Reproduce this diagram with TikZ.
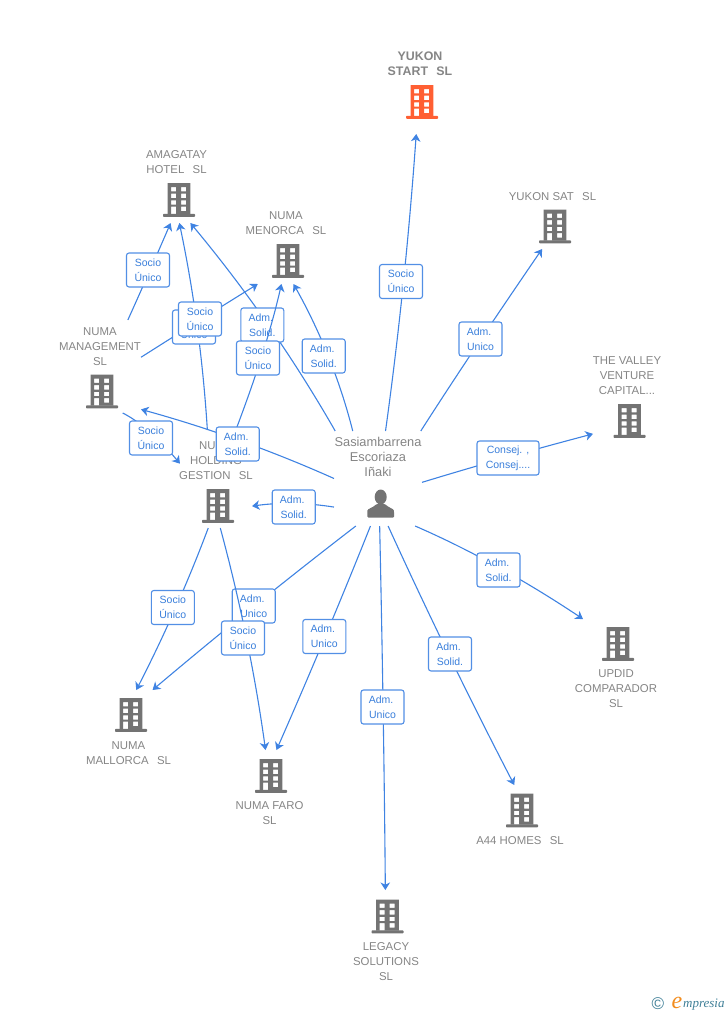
\documentclass[tikz,border=0pt]{standalone}
\usepackage{fontspec}
\setmainfont{Liberation Sans}
\newfontfamily\logofont{Liberation Serif}
\usetikzlibrary{arrows.meta}
\definecolor{edgeblue}{HTML}{3F83E2}
\definecolor{labelblue}{HTML}{3A7FDB}
\definecolor{tagray}{HTML}{858585}
\definecolor{icongray}{HTML}{737373}
\definecolor{iconred}{HTML}{FF5F33}
\definecolor{logoteal}{HTML}{3F7F97}
\definecolor{logoorange}{HTML}{F28C1E}
\newcommand{\dsp}{\hspace{8.3pt}}
\newcommand{\tsp}{\kern3pt}
\tikzset{
  grp/.style args={#1x#2}{draw=none,inner sep=0pt,outer sep=0pt,minimum width=#1pt,minimum height=#2pt},
  tag/.style={text=tagray,font=\fontsize{11.4}{15}\selectfont,align=center,inner sep=0pt},
  conn/.style={draw=edgeblue,line width=1.1pt},
  arr/.style={conn,-{Stealth[length=7.5pt,width=9.5pt,inset=2.2pt]}},
  lab/.style={draw=edgeblue!90!white,line width=1.1pt,fill=white,rounded corners=2.5pt,minimum width=43pt,minimum height=34pt,inner sep=0pt,
    text=labelblue,font=\fontsize{10.5}{15}\selectfont,align=center},
  bldg/.style={draw=none,inner sep=0pt,outer sep=0pt,minimum width=34pt,minimum height=36pt,
    path picture={\begin{scope}[shift={(path picture bounding box.center)}]
      \fill[#1,even odd rule] (-11.3,-17) rectangle (11.3,14)
        (-8,-13) rectangle (-3,-8.7) (2,-13) rectangle (7,-8.7)
        (-8,-6.3) rectangle (-3,-2) (2,-6.3) rectangle (7,-2)
        (-8,0.3) rectangle (-3,4.7) (2,0.3) rectangle (7,4.7)
        (-8,6.7) rectangle (-3,14) (2,6.7) rectangle (7,11);
      \fill[#1,rounded corners=0.8pt] (-16,13.8) rectangle (16,16.8);
    \end{scope}}},
}
\begin{document}
\begin{tikzpicture}[x=1pt,y=-1pt]
\useasboundingbox (0,0) rectangle (728,1015);
% group frames
\node[grp=88x95] (person) at (378,478.5) {};
\node[grp=70x86] (yukon) at (420,91) {};
\node[grp=90x61] (ysat) at (552,218.5) {};
\node[grp=70x90] (valley) at (628,395) {};
\node[grp=70x93] (updid) at (618,665.5) {};
\node[grp=90x65] (afour) at (520,817.5) {};
\node[grp=75x95] (legacy) at (387,937.5) {};
\node[grp=72x78] (faro) at (271,789) {};
\node[grp=87x80] (mallorca) at (128.5,730) {};
\node[grp=72x98] (holding) at (216,479) {};
\node[grp=80x93] (mgmt) at (101,366.5) {};
\node[grp=65x76] (amagatay) at (178,185) {};
\node[grp=85x76] (menorca) at (287.5,246) {};
% titles
\node[tag,font=\bfseries\fontsize{12.4}{15}\selectfont] (yukon-t) at (420,64) {YUKON\\START\dsp SL};
\node[tag] (ysat-t) at (552.5,196.7) {YUKON SAT\dsp SL};
\node[tag] (valley-t) at (627,376) {THE VALLEY\\VENTURE\\CAPITAL...};
\node[tag] (updid-t) at (616,688.5) {UPDID\\COMPARADOR\\SL};
\node[tag] (afour-t) at (520,840.5) {A44 HOMES\dsp SL};
\node[tag] (legacy-t) at (386,961.5) {LEGACY\\SOLUTIONS\\SL};
\node[tag] (faro-t) at (269.5,813) {NUMA FARO\\SL};
\node[tag] (mallorca-t) at (128.5,753) {NUMA\\MALLORCA\dsp SL};
\node[tag] (holding-t) at (216,460.5) {NUMA\\HOLDING\\GESTION\dsp SL};
\node[tag] (mgmt-t) at (100,346.5) {NUMA\\MANAGEMENT\\SL};
\node[tag] (amagatay-t) at (176.5,162) {AMAGATAY\\HOTEL\dsp SL};
\node[tag] (menorca-t) at (286,223) {NUMA\\MENORCA\dsp SL};
\node[tag,font=\fontsize{12.8}{15.2}\selectfont] (person-t) at (378,456.7) {Sasiambarrena\\Escoriaza\\Iñaki};
% icons
\node[bldg=iconred] (yukon-i) at (422,102) {};
\node[bldg=icongray] (ysat-i) at (555,226.5) {};
\node[bldg=icongray] (valley-i) at (629.5,421) {};
\node[bldg=icongray] (updid-i) at (618,644) {};
\node[bldg=icongray] (afour-i) at (522,810.5) {};
\node[bldg=icongray] (legacy-i) at (387.5,916.5) {};
\node[bldg=icongray] (faro-i) at (271,776) {};
\node[bldg=icongray] (mallorca-i) at (131,715) {};
\node[bldg=icongray] (holding-i) at (218,506) {};
\node[bldg=icongray] (mgmt-i) at (102,391.5) {};
\node[bldg=icongray] (amagatay-i) at (179,200) {};
\node[bldg=icongray] (menorca-i) at (288,261) {};
\node[draw=none,inner sep=0pt,minimum size=1pt] (person-i) at (380.5,505) {};
\fill[icongray] (380.7,497) ellipse (6pt and 7.5pt);
\fill[icongray,rounded corners=1pt] (367.3,517.5) -- (367.3,511.5) .. controls (367.8,508.5) and (372.5,508) .. (376.5,504) -- (385,504) .. controls (389,508) and (393.5,508.5) .. (394,511.5) -- (394,517.5) -- cycle;
% right side and lower edges
\draw[arr] (person.81.6) .. controls (399.3,331.7) and (409.2,232.7) .. (yukon.-95.3);
\node[lab] (l1) at (401,281.5) {Socio\\Único};
\draw[arr] (person.48.5) .. controls (460,369.7) and (501,309) .. (ysat.-108.2);
\node[lab] (l2) at (480.5,339) {Adm.\tsp\\Unico};
\draw[arr] (person.-5.8) .. controls (478.7,465) and (535.7,449) .. (valley.228.8);
\node[lab,minimum width=62pt] (l3) at (508,458) {Consej. ,\\Consej....};
\draw[arr] (person.-52.3) .. controls (469.7,549.7) and (526,581) .. (updid.127);
\node[lab] (l4) at (498.5,570) {Adm.\tsp\\Solid.};
\draw[arr] (person.-78.1) .. controls (427.3,612) and (469.3,698.3) .. (afour.100.5);
\node[lab] (l5) at (450,654) {Adm.\tsp\\Solid.};
\draw[arr] (person.-88.8) .. controls (382.3,646.7) and (384.3,768) .. (legacy.92.4);
\node[lab] (l6) at (382.5,707) {Adm.\tsp\\Unico};
\draw[arr] (person.-99.6) .. controls (340.7,600.7) and (309.3,675.3) .. (faro.82.7);
\node[lab] (l7) at (324.3,636.5) {Adm.\tsp\\Unico};
\draw[arr] (holding.-99.3) .. controls (188,582) and (164,636) .. (mallorca.79.4);
\node[lab] (l8) at (172.8,607.5) {Socio\\Único};
\draw[arr] (person.-115.8) .. controls (287.3,578.7) and (219.7,633.3) .. (mallorca.59.5);
\node[lab] (l9) at (253.7,606) {Adm.\tsp\\Unico};
\draw[arr] (holding.-85.3) .. controls (240.3,602) and (255.3,676) .. (faro.98.7);
\node[lab] (l10) at (243,638) {Socio\\Único};
\draw[arr] (person.213.8) .. controls (306.7,502.7) and (279.3,502.3) .. (holding.-37.9);
\node[lab] (l11) at (293.7,507) {Adm.\tsp\\Solid.};
% upper left cluster
\draw[arr] (mgmt.60.8) .. controls (143.3,285.7) and (157.7,253) .. (amagatay.-101.9);
\node[lab] (l12) at (148,270) {Socio\\Único};
\draw[arr] (person.132.8) .. controls (294,359) and (246,289.7) .. (amagatay.-72.4);
\node[lab] (l13) at (262.3,325) {Adm.\tsp\\Solid.};
\draw[arr] (person.118.7) .. controls (340.2,381.3) and (320.5,332.3) .. (menorca.-81.8);
\node[lab] (l14) at (323.7,356) {Adm.\tsp\\Solid.};
\draw[arr] (holding.100.4) .. controls (203,360.3) and (193.7,291.3) .. (amagatay.-88.5);
\draw[arr] (mgmt.13.4) .. controls (180,332.5) and (219,308) .. (menorca.232.2);
\node[lab] (l15) at (194,327) {Socio\\Único};
\node[lab] (l16) at (200,319) {Socio\\Único};
\draw[arr] (holding.68.8) .. controls (254.3,381.3) and (270.4,332.7) .. (menorca.-99.7);
\node[lab] (l17) at (258,358) {Socio\\Único};
\draw[arr] (mgmt.-65.7) .. controls (138.7,421) and (158,437.3) .. (holding.157.4);
\node[lab] (l18) at (151,438) {Socio\\Único};
\draw[arr] (person.180) .. controls (270.3,450) and (206,427.3) .. (mgmt.-47.4);
\node[lab] (l19) at (237.7,444) {Adm.\tsp\\Solid.};
% logo
\node[inner sep=0pt,text=logoteal,font=\fontsize{17}{17}\selectfont] (logo-c) at (658,1004) {©};
\node[inner sep=0pt,text=logoorange,font=\logofont\itshape\fontsize{24}{24}\selectfont] (logo-e) at (677,1002.5) {e};
\node[inner sep=0pt,anchor=west,text=logoteal,font=\logofont\itshape\fontsize{13}{14}\selectfont] (logo-t) at (683,1005) {mpresia};
\end{tikzpicture}
\end{document}
